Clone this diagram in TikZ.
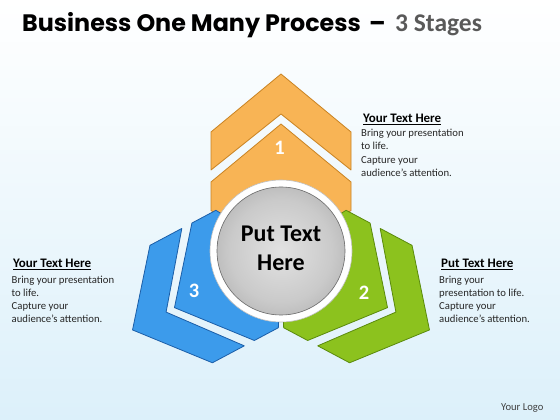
\documentclass[tikz,border=0pt]{standalone}
\usepackage{fontspec}
\setmainfont{Carlito}
\newfontfamily\titlefont{Poppins}
\definecolor{bgblue}{HTML}{DCF0FA}
\definecolor{bgmid}{HTML}{F7FCFE}
\definecolor{orfill}{HTML}{F8B455}
\definecolor{oredge}{HTML}{C98322}
\definecolor{grfill}{HTML}{8CC21E}
\definecolor{gredge}{HTML}{5A8A0C}
\definecolor{blfill}{HTML}{3C9BEB}
\definecolor{bledge}{HTML}{1B5EA8}
\definecolor{titlegray}{HTML}{595959}
\definecolor{bodytext}{HTML}{262626}
\definecolor{logotext}{HTML}{404040}
\definecolor{g1}{HTML}{E2E2E2}
\definecolor{g2}{HTML}{CACACA}
\definecolor{g3}{HTML}{A2A2A2}
\definecolor{g4}{HTML}{7E7E7E}
\definecolor{g5}{HTML}{6A6A6A}
\pgfdeclareradialshading{ballgray}{\pgfpoint{0bp}{0bp}}{color(0bp)=(g1); color(20bp)=(g2); color(38bp)=(g3); color(46bp)=(g4); color(50bp)=(g5)}
\newcommand\drawarm[3]{%
  \begin{scope}[shift={(281,169)},#1]
    \filldraw[fill=#2,draw=#3,line width=0.8pt,line join=round]
      (0,177) -- (70,119) -- (70,81) -- (0,137) -- (-70,81) -- (-70,119) -- cycle;
    \filldraw[fill=#2,draw=#3,line width=0.8pt,line join=round]
      (0,127) -- (70,69) -- (70,40.4) -- (0,0) -- (-70,40.4) -- (-70,69) -- cycle;
  \end{scope}}
\tikzset{
  titletext/.style={anchor=base west, inner sep=0pt, font=\titlefont\bfseries\fontsize{23.8}{28}\selectfont},
  numlabel/.style={anchor=base, inner sep=0pt, text=white, font=\bfseries\fontsize{20.5}{24}\selectfont},
  headtext/.style={anchor=base west, inner sep=0pt, font=\bfseries\fontsize{13}{15}\selectfont, text=black},
  bodyblock/.style={anchor=base west, inner sep=0pt, align=left, text=bodytext, font=\fontsize{10.7}{13.3}\selectfont}
}
\begin{document}
\begin{tikzpicture}[x=1pt,y=1pt]
\useasboundingbox (0,0) rectangle (560,420);
\shade[top color=white, middle color=bgmid, bottom color=bgblue] (0,0) rectangle (560,420);
% title
\node[titletext] (title) at (22,388.5) {Business One Many Process};
\node[titletext] (dash) at (369,388.5) {–};
\node[anchor=base west, inner sep=0pt, font=\bfseries\fontsize{25.5}{30}\selectfont, text=titlegray] (stages) at (395,388.5) {3 Stages};
% arms
\drawarm{}{orfill}{oredge}
\drawarm{rotate=118,scale=0.95}{blfill}{bledge}
\drawarm{rotate=-118,scale=0.95}{grfill}{gredge}
% centre circle
\node[circle, minimum size=142pt, inner sep=0pt, fill=white, draw=black!25, line width=0.6pt] (ring) at (281,169) {};
\shade[shading=ballgray] (281,169) circle (64);
\draw[g5, line width=0.6pt] (281,169) circle (64);
\node[anchor=base, inner sep=0pt, align=center, font=\bfseries\fontsize{24}{29}\selectfont] (ctext) at (281,149.5) {Put Text\\Here};
% numbers
\node[numlabel] (n1) at (279.5,265) {1};
\node[numlabel] (n2) at (364,120) {2};
\node[numlabel] (n3) at (194,122) {3};
% text blocks
\node[headtext] (h1) at (363,297.5) {\underline{Your Text Here}};
\node[bodyblock] (b1) at (361,243.4) {Bring your presentation\\to life.\\Capture your\\audience’s attention.};
\node[headtext] (h3) at (13,152.7) {\underline{Your Text Here}};
\node[bodyblock] (b3) at (11.5,97) {Bring your presentation\\to life.\\Capture your\\audience’s attention.};
\node[headtext] (h2) at (441,152.7) {\underline{Put Text Here}};
\node[bodyblock] (b2) at (439,97) {Bring your\\presentation to life.\\Capture your\\audience’s attention.};
\node[anchor=base west, inner sep=0pt, text=logotext, font=\fontsize{10.6}{12}\selectfont] (logo) at (501,9.3) {Your Logo};
\end{tikzpicture}
\end{document}
